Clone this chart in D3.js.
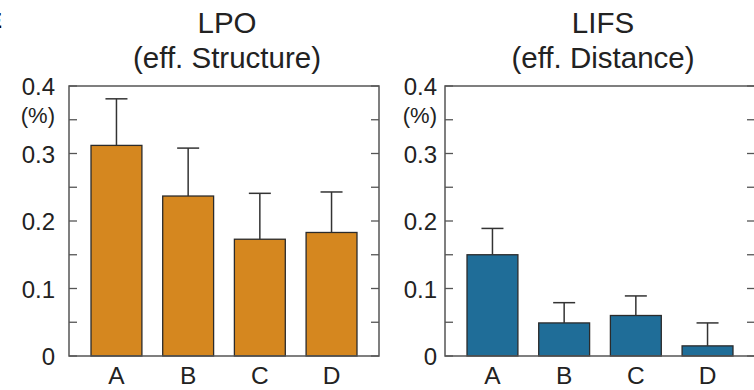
<!DOCTYPE html>
<html>
<head>
<meta charset="utf-8">
<script src="https://cdn.jsdelivr.net/npm/d3@7"></script>
<style>
  body { margin: 0; background: #fff; }
  svg { display: block; font-family: "Liberation Sans", Arial, sans-serif; }
</style>
</head>
<body>
<svg width="754" height="390"></svg>
<script>
const categories = ["A", "B", "C", "D"];
const lpoValues = [0.312, 0.237, 0.173, 0.183];
const lpoErrors = [0.069, 0.071, 0.068, 0.060];
const lifsValues = [0.150, 0.049, 0.060, 0.015];
const lifsErrors = [0.039, 0.030, 0.029, 0.034];
const yTicks = [0, 0.1, 0.2, 0.3, 0.4];
const yMinorTicks = [0.05, 0.15, 0.25, 0.35];

const svg = d3.select("svg");

// partly cropped panel letter in the corner
svg.append("text")
    .attr("x", 2).attr("y", 28)
    .attr("text-anchor", "end")
    .attr("font-size", 22)
    .attr("font-weight", "bold")
    .text("E");

const y = d3.scaleLinear().domain([0, 0.4]).range([356, 86]);

function panel(x0, x1, title1, title2, values, errors, color, labelGap) {
    const g = svg.append("g");
    const x = d3.scaleBand()
        .domain(categories)
        .range([x0, x1])
        .paddingInner(0.29)
        .paddingOuter(0.307);

    const mid = (x0 + x1) / 2 + 3;
    g.append("text").attr("x", mid).attr("y", 33)
        .attr("text-anchor", "middle").attr("font-size", 29.5).attr("fill", "#222")
        .text(title1);
    g.append("text").attr("x", mid).attr("y", 68)
        .attr("text-anchor", "middle").attr("font-size", 29.5).attr("fill", "#222")
        .text(title2);

    // bars
    g.selectAll("rect.bar")
        .data(values)
        .enter().append("rect")
            .attr("class", "bar")
            .attr("x", (d, i) => x(categories[i]))
            .attr("width", x.bandwidth())
            .attr("y", d => y(d))
            .attr("height", d => y(0) - y(d))
            .attr("fill", color)
            .attr("stroke", "#2b2b2b")
            .attr("stroke-width", 1.3);

    // upper error bars
    const eb = g.selectAll("g.err")
        .data(values)
        .enter().append("g")
            .attr("class", "err")
            .attr("stroke", "#333")
            .attr("stroke-width", 1.5);
    eb.append("line")
        .attr("x1", (d, i) => x(categories[i]) + x.bandwidth() / 2)
        .attr("x2", (d, i) => x(categories[i]) + x.bandwidth() / 2)
        .attr("y1", d => y(d))
        .attr("y2", (d, i) => y(d + errors[i]));
    eb.append("line")
        .attr("x1", (d, i) => x(categories[i]) + x.bandwidth() / 2 - 11)
        .attr("x2", (d, i) => x(categories[i]) + x.bandwidth() / 2 + 11)
        .attr("y1", (d, i) => y(d + errors[i]))
        .attr("y2", (d, i) => y(d + errors[i]));

    // frame
    g.append("rect")
        .attr("x", x0).attr("y", y(0.4))
        .attr("width", x1 - x0).attr("height", y(0) - y(0.4))
        .attr("fill", "none").attr("stroke", "#555").attr("stroke-width", 1.5);

    // inward ticks on both sides
    const allTicks = yTicks.concat(yMinorTicks);
    g.selectAll("line.tl").data(allTicks).enter().append("line")
        .attr("x1", x0).attr("x2", x0 + 8)
        .attr("y1", d => y(d)).attr("y2", d => y(d))
        .attr("stroke", "#555").attr("stroke-width", 1.3);
    g.selectAll("line.tr").data(allTicks).enter().append("line")
        .attr("x1", x1).attr("x2", x1 - 8)
        .attr("y1", d => y(d)).attr("y2", d => y(d))
        .attr("stroke", "#555").attr("stroke-width", 1.3);

    g.selectAll("text.yl").data(yTicks).enter().append("text")
        .attr("x", x0 - labelGap)
        .attr("y", d => y(d) + 9)
        .attr("text-anchor", "end").attr("font-size", 24).attr("fill", "#222")
        .text(d => d === 0 ? "0" : d3.format(".1f")(d));
    g.append("text")
        .attr("x", x0 - labelGap)
        .attr("y", y(0.35) + 3)
        .attr("text-anchor", "end").attr("font-size", 22).attr("fill", "#222")
        .text("(%)");

    g.selectAll("text.xl").data(categories).enter().append("text")
        .attr("x", d => x(d) + x.bandwidth() / 2)
        .attr("y", 384)
        .attr("text-anchor", "middle").attr("font-size", 24.5).attr("fill", "#222")
        .text(d => d);
}

panel(69, 379, "LPO", "(eff. Structure)", lpoValues, lpoErrors, "#d5871f", 14);
panel(445, 755, "LIFS", "(eff. Distance)", lifsValues, lifsErrors, "#1f6d98", 8);
</script>
</body>
</html>
